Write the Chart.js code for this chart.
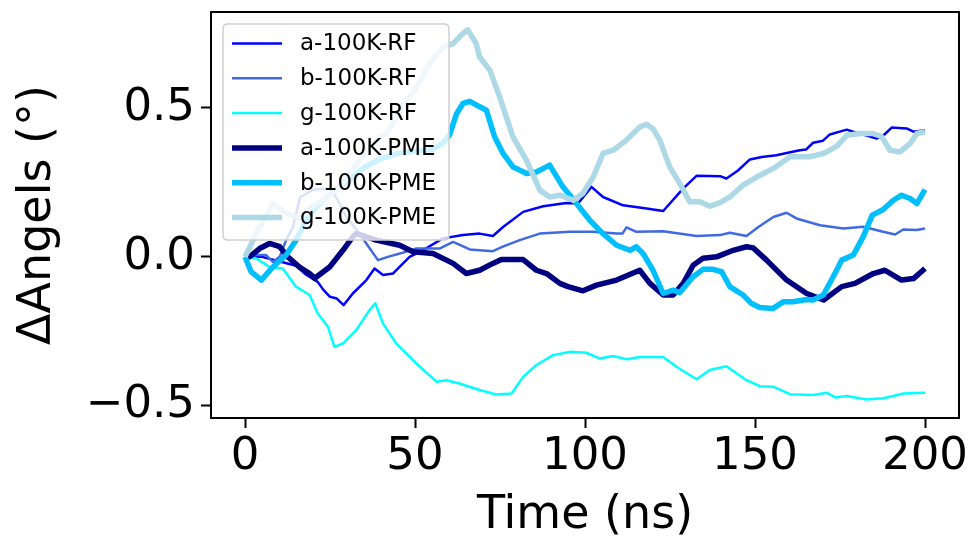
<!DOCTYPE html>
<html>
<head>
<meta charset="utf-8">
<script src="https://cdn.jsdelivr.net/npm/chart.js@4.4.1/dist/chart.umd.min.js"></script>
<style>
  html, body { margin: 0; padding: 0; background: #ffffff; }
  #wrap { width: 972px; height: 539px; }
</style>
</head>
<body>
<div id="wrap"><canvas id="c" width="972" height="539"></canvas></div>
<script>
// ---- data ----
const seriesNames = ["a-100K-RF", "b-100K-RF", "g-100K-RF", "a-100K-PME", "b-100K-PME", "g-100K-PME"];

const aRF_t = [0, 5, 10, 15, 18, 21.4, 23, 25, 27, 29, 31.7, 35.7, 38.1, 40.6, 43.5, 48.4, 52.3, 58.2, 64.1, 69, 72.9, 75.9, 81.8, 87.7, 94.5, 98, 101.9, 105.3, 111.2, 118.1, 123, 128.9, 132.8, 139.7, 141.6, 145, 148.5, 152, 156.3, 160, 163.2, 165, 167.1, 170, 172, 177, 178.9, 182, 185.8, 188, 190.2, 194.6, 196.6, 200];
const aRF_v = [0, 0, -0.015, -0.03, -0.06, -0.084, -0.11, -0.134, -0.14, -0.162, -0.123, -0.078, -0.039, -0.061, -0.056, 0, 0.022, 0.062, 0.073, 0.078, 0.07, 0.1, 0.151, 0.17, 0.181, 0.18, 0.235, 0.201, 0.173, 0.162, 0.154, 0.23, 0.272, 0.271, 0.263, 0.29, 0.327, 0.335, 0.341, 0.35, 0.358, 0.36, 0.383, 0.39, 0.411, 0.427, 0.42, 0.41, 0.397, 0.41, 0.434, 0.431, 0.42, 0.425];

const bRF_t = [0, 3.3, 6.2, 8.2, 10.2, 12.1, 14.1, 16.2, 20, 24.9, 26.8, 29.8, 33.7, 36, 39.1, 42, 45.5, 50.4, 57.2, 61.2, 66.1, 72.9, 76, 80.8, 86.7, 95.5, 102.4, 109.3, 111, 112.2, 115.1, 123, 132.8, 139.7, 142.6, 147.5, 151, 155.4, 159.3, 162.2, 169.1, 176, 181.8, 187.7, 191.2, 193.6, 197.6, 200];
const bRF_v = [0, 0.006, 0.006, -0.017, 0, 0.056, 0.1, 0.2, 0.225, 0.23, 0.2, 0.134, 0.078, 0.04, -0.011, 0, 0.011, 0.028, 0.028, 0.05, 0.025, 0.019, 0.035, 0.056, 0.078, 0.084, 0.084, 0.078, 0.078, 0.099, 0.084, 0.086, 0.07, 0.073, 0.081, 0.07, 0.1, 0.134, 0.148, 0.129, 0.106, 0.095, 0.101, 0.084, 0.075, 0.092, 0.09, 0.095];

const gRF_t = [0, 3.3, 7.2, 11.1, 15, 19, 21.4, 24.4, 26.3, 28.8, 32.7, 36.6, 38.3, 40.6, 44.5, 50.4, 56.3, 59.2, 63.1, 69, 73.9, 78.4, 81.8, 85.7, 90.6, 95.5, 100.4, 104.3, 108.3, 112.2, 116.1, 123, 126.9, 132.8, 136.7, 141.6, 147.5, 151.4, 155.3, 160.3, 167.1, 171.1, 173.6, 177, 182.8, 187.7, 190.7, 193.6, 200];
const gRF_v = [0, -0.005, -0.034, -0.039, -0.1, -0.128, -0.19, -0.235, -0.302, -0.291, -0.246, -0.179, -0.156, -0.224, -0.291, -0.358, -0.419, -0.414, -0.425, -0.447, -0.462, -0.459, -0.403, -0.363, -0.33, -0.319, -0.322, -0.341, -0.333, -0.344, -0.336, -0.336, -0.369, -0.411, -0.38, -0.367, -0.414, -0.434, -0.436, -0.461, -0.464, -0.456, -0.472, -0.467, -0.479, -0.475, -0.467, -0.459, -0.456];

const aPME_t = [0, 1.3, 4.3, 7.2, 10.2, 12.6, 16, 19, 20.5, 24.9, 28.8, 31.7, 32.7, 35, 38.6, 45.5, 49.4, 55.3, 61.2, 65.1, 69, 72.9, 75.4, 81.8, 85.7, 88.7, 92.6, 95, 99.4, 103.4, 109.3, 116.1, 119.1, 123, 125.9, 128.9, 131.8, 134.7, 138.7, 143.6, 147.5, 149.5, 153.4, 159.3, 165.2, 170.2, 175.5, 179.4, 184.8, 188.2, 193.1, 196.6, 200];
const aPME_v = [0, 0, 0.028, 0.045, 0.034, 0, -0.034, -0.056, -0.072, -0.034, 0.022, 0.067, 0.078, 0.07, 0.056, 0.039, 0.017, 0.011, -0.022, -0.056, -0.045, -0.022, -0.009, -0.009, -0.045, -0.056, -0.089, -0.1, -0.114, -0.095, -0.078, -0.045, -0.089, -0.128, -0.128, -0.089, -0.028, -0.005, 0, 0.022, 0.034, 0.03, -0.011, -0.078, -0.123, -0.145, -0.1, -0.089, -0.056, -0.045, -0.078, -0.073, -0.039];

const bPME_t = [0, 1.8, 4.8, 8.2, 12.1, 15, 18, 21, 24, 28, 32, 35, 40, 45, 50, 55, 58, 60.2, 62.2, 64.1, 66.1, 68, 71, 73.4, 75.9, 78.8, 82.8, 85.7, 89.6, 93.5, 97.5, 101.4, 105.3, 109.3, 113.2, 115.1, 117.1, 120, 123, 125.9, 127.9, 131.8, 134.7, 137.7, 140.2, 142.6, 146.5, 148.9, 151.4, 155.3, 158.3, 161.2, 165.2, 167.1, 170.1, 173, 175.5, 178.9, 181.8, 184.5, 187.7, 190.7, 193.1, 195.6, 197.6, 200];
const bPME_v = [0, -0.05, -0.078, -0.034, 0.006, 0.056, 0.123, 0.168, 0.2, 0.235, 0.27, 0.3, 0.33, 0.347, 0.355, 0.36, 0.38, 0.41, 0.48, 0.515, 0.522, 0.51, 0.492, 0.403, 0.347, 0.302, 0.28, 0.285, 0.308, 0.235, 0.179, 0.123, 0.078, 0.039, 0.022, 0.034, 0.011, -0.045, -0.123, -0.112, -0.12, -0.067, -0.042, -0.042, -0.05, -0.1, -0.128, -0.156, -0.17, -0.173, -0.151, -0.151, -0.143, -0.145, -0.128, -0.067, -0.011, 0.006, 0.067, 0.14, 0.159, 0.19, 0.207, 0.196, 0.179, 0.226];

const gPME_t = [0, 4.3, 8.2, 12.1, 16, 20, 24, 27.8, 29.8, 33.7, 39.6, 41.6, 44, 47.4, 50, 54.3, 58.2, 61.2, 64.1, 65.5, 68, 69, 72, 74.9, 78.8, 82.8, 86.7, 89.6, 92.6, 96.5, 99.4, 102.4, 105.3, 108.3, 112.2, 116.1, 118.1, 120, 122, 124.9, 127.9, 130.8, 133.8, 136.7, 139.7, 142.6, 146.5, 151.5, 155.4, 160.3, 166.1, 170.1, 174, 177, 180.9, 184.8, 187.3, 189.7, 192.6, 195.6, 197.6, 200];
const gPME_v = [0, 0.1, 0.179, 0.146, 0.13, 0.17, 0.2, 0.235, 0.268, 0.324, 0.403, 0.414, 0.46, 0.526, 0.56, 0.649, 0.705, 0.716, 0.75, 0.762, 0.716, 0.671, 0.627, 0.537, 0.403, 0.324, 0.224, 0.201, 0.207, 0.19, 0.213, 0.268, 0.347, 0.358, 0.392, 0.436, 0.445, 0.43, 0.392, 0.302, 0.246, 0.185, 0.185, 0.17, 0.182, 0.201, 0.241, 0.274, 0.297, 0.336, 0.336, 0.347, 0.371, 0.408, 0.414, 0.414, 0.403, 0.358, 0.352, 0.38, 0.414, 0.42];

const xTicks = [0, 50, 100, 150, 200];
const yTicks = [-0.5, 0.0, 0.5];
const xLabel = "Time (ns)";
const yLabel = "\u0394Angels (\u00b0)";

// ---- styling ----
const colors = ["#0000ff", "#4169e1", "#00ffff", "#000080", "#00bfff", "#add8e6"];
const widths = [2.5, 2.5, 2.5, 5.5, 5.5, 5.5];
const FONT = "'DejaVu Sans', 'Liberation Sans', sans-serif";

const allT = [aRF_t, bRF_t, gRF_t, aPME_t, bPME_t, gPME_t];
const allV = [aRF_v, bRF_v, gRF_v, aPME_v, bPME_v, gPME_v];

const datasets = seriesNames.map((name, i) => ({
  label: name,
  data: allT[i].map((t, k) => ({ x: t, y: allV[i][k] })),
  borderColor: colors[i],
  backgroundColor: colors[i],
  borderWidth: widths[i],
  pointRadius: 0,
  tension: 0,
  fill: false,
  order: seriesNames.length - i,
  borderJoinStyle: 'round',
  borderCapStyle: 'butt'
}));

const framePlugin = {
  id: 'frameAndLegend',
  afterDraw(chart) {
    const ctx = chart.ctx;
    const a = chart.chartArea;
    ctx.save();
    // legend box (upper left, inside axes)
    const bx = a.left + 12, by = a.top + 12, bw = 226, bh = 216, r = 5;
    ctx.beginPath();
    ctx.moveTo(bx + r, by);
    ctx.lineTo(bx + bw - r, by);
    ctx.quadraticCurveTo(bx + bw, by, bx + bw, by + r);
    ctx.lineTo(bx + bw, by + bh - r);
    ctx.quadraticCurveTo(bx + bw, by + bh, bx + bw - r, by + bh);
    ctx.lineTo(bx + r, by + bh);
    ctx.quadraticCurveTo(bx, by + bh, bx, by + bh - r);
    ctx.lineTo(bx, by + r);
    ctx.quadraticCurveTo(bx, by, bx + r, by);
    ctx.closePath();
    ctx.fillStyle = 'rgba(255,255,255,0.8)';
    ctx.fill();
    ctx.strokeStyle = '#d0d0d0';
    ctx.lineWidth = 1.5;
    ctx.stroke();
    ctx.font = "23px " + FONT;
    ctx.textBaseline = 'middle';
    ctx.textAlign = 'left';
    seriesNames.forEach((name, i) => {
      const y = by + 19.5 + i * 34.8;
      ctx.beginPath();
      ctx.moveTo(bx + 9, y);
      ctx.lineTo(bx + 59, y);
      ctx.strokeStyle = colors[i];
      ctx.lineWidth = widths[i];
      ctx.lineCap = 'butt';
      ctx.stroke();
      ctx.fillStyle = '#000000';
      ctx.fillText(name, bx + 77, y + 1);
    });
    // axes frame
    ctx.strokeStyle = '#000000';
    ctx.lineWidth = 2;
    ctx.strokeRect(a.left, a.top, a.right - a.left, a.bottom - a.top);
    ctx.restore();
  }
};

new Chart(document.getElementById('c'), {
  type: 'line',
  data: { datasets },
  options: {
    responsive: false,
    animation: false,
    devicePixelRatio: 1,
    layout: { padding: { top: 12, right: 13, left: 0, bottom: 0 } },
    plugins: { legend: { display: false }, tooltip: { enabled: false } },
    scales: {
      x: {
        type: 'linear',
        min: -10, max: 210,
        afterBuildTicks: (s) => { s.ticks = xTicks.map(v => ({ value: v })); },
        afterFit: (s) => { s.height = 121; s.paddingLeft = 0; s.paddingRight = 0; },
        grid: { display: true, drawOnChartArea: false, drawTicks: true, tickLength: 10, tickWidth: 2, tickColor: '#000000' },
        border: { display: false },
        ticks: { color: '#000000', font: { family: FONT, size: 45 }, padding: 2, maxRotation: 0, autoSkip: false,
                 callback: (v) => String(v) },
        title: { display: true, text: xLabel, color: '#000000', font: { family: FONT, size: 46, lineHeight: 1 }, padding: { top: 0, bottom: 0 } }
      },
      y: {
        type: 'linear',
        min: -0.541, max: 0.822,
        afterBuildTicks: (s) => { s.ticks = yTicks.map(v => ({ value: v })); },
        afterFit: (s) => { s.width = 211; s.paddingTop = 0; s.paddingBottom = 0; },
        grid: { display: true, drawOnChartArea: false, drawTicks: true, tickLength: 10, tickWidth: 2, tickColor: '#000000' },
        border: { display: false },
        ticks: { color: '#000000', font: { family: FONT, size: 45 }, padding: 6, autoSkip: false,
                 callback: (v) => (v < 0 ? '\u2212' : '') + Math.abs(v).toFixed(1) },
        title: { display: true, text: yLabel, color: '#000000', font: { family: FONT, size: 46 }, padding: { top: 10, bottom: 0 } }
      }
    }
  },
  plugins: [framePlugin]
});
</script>
</body>
</html>
